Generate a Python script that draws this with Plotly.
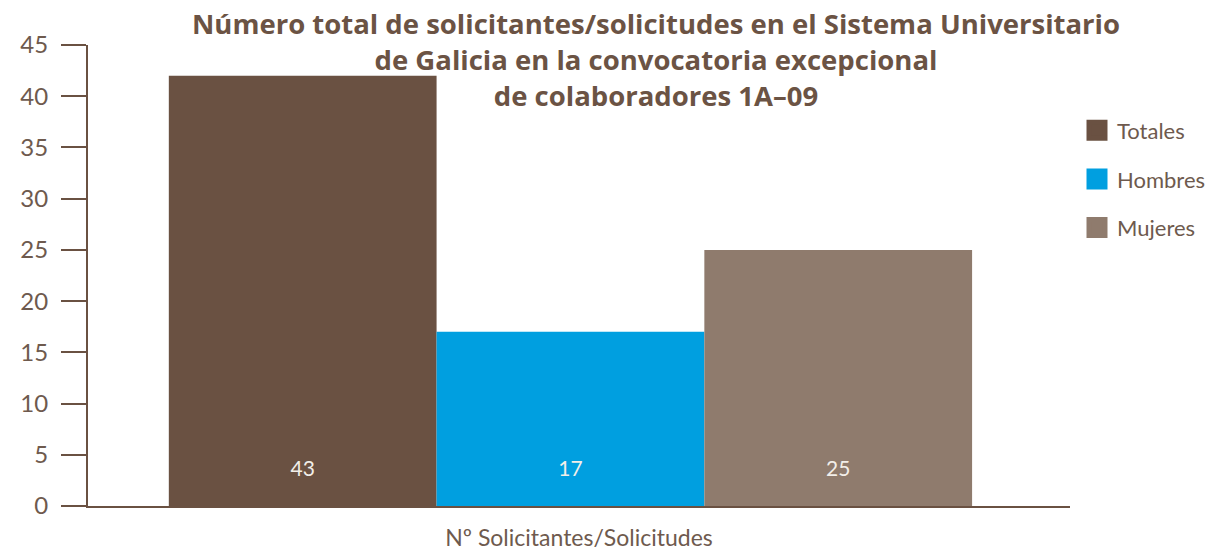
import plotly.graph_objects as go

# ---- data ----
category = ["Nº Solicitantes/Solicitudes"]
series_names = ["Totales", "Hombres", "Mujeres"]
bar_values = [42, 17, 25]
bar_labels = ["43", "17", "25"]
y_tick_values = [0, 5, 10, 15, 20, 25, 30, 35, 40, 45]
title_text = ("Número total de solicitantes/solicitudes en el Sistema Universitario<br>"
              "de Galicia en la convocatoria excepcional<br>"
              "de colaboradores 1A\u201309")

# ---- style ----
colors = ["#6a5142", "#009fe0", "#8f7b6d"]
axis_color = "#6a5142"
text_color = "#6e5a4e"
label_y = 3.4
FONT = "Lato, 'Open Sans', sans-serif"
TITLE_FONT = "'Open Sans', Lato, sans-serif"
W, H = 1202, 543

fig = go.Figure()
for name, val, col in zip(series_names, bar_values, colors):
    fig.add_trace(go.Bar(
        x=category, y=[val], name=name, marker=dict(color=col, line=dict(width=0)),
        showlegend=False,
    ))
for name, lab in zip(series_names, bar_labels):
    fig.add_trace(go.Scatter(
        x=category, y=[label_y], mode="text", text=[lab], showlegend=False,
        textfont=dict(family=FONT, size=21, color="#f2eee9"), hoverinfo="skip",
    ))
# legend entries (bigger square swatches) on an invisible overlay axis
for name, col in zip(series_names, colors):
    fig.add_trace(go.Scatter(
        x=[None], y=[None], mode="markers", name=name, legendgroup=name,
        marker=dict(symbol="square", size=18, color=col, line=dict(color=col, width=5)),
        xaxis="x2", yaxis="y2", hoverinfo="skip",
    ))

fig.update_layout(
    width=W, height=H,
    margin=dict(l=80, r=140, t=37, b=45, autoexpand=False),
    paper_bgcolor="white", plot_bgcolor="white",
    barmode="group", bargap=0.182, bargroupgap=0,
    scattermode="group", scattergap=0.182,
    title=dict(text=title_text, x=648/W, xanchor="center", xref="container",
               y=1 - 26/H, yanchor="middle", yref="container",
               font=dict(family=TITLE_FONT, size=27.5, color="#6b5344", weight="bold")),
    legend=dict(x=1069/W, xref="container", y=0.860, xanchor="left", yanchor="top",
                font=dict(family=FONT, size=22, color=text_color),
                tracegroupgap=17, itemsizing="trace", bgcolor="rgba(0,0,0,0)"),
    font=dict(family=FONT, color=text_color),
    xaxis=dict(
        range=[-0.4913, 0.5087], showticklabels=False, ticks="",
        showline=True, linecolor=axis_color, linewidth=2, showgrid=False, zeroline=False,
        title=dict(text=category[0], font=dict(family=FONT, size=23, color=text_color), standoff=24),
    ),
    yaxis=dict(
        range=[0, 45], tickvals=y_tick_values, ticks="outside", ticklen=25, tickwidth=2,
        tickcolor=axis_color, showline=True, linecolor=axis_color, linewidth=2,
        showgrid=False, zeroline=False, ticklabelstandoff=8,
        tickfont=dict(family=FONT, size=24, color=text_color),
    ),
    xaxis2=dict(overlaying="x", visible=False),
    yaxis2=dict(overlaying="y", visible=False),
)

fig.write_html("out.html")
